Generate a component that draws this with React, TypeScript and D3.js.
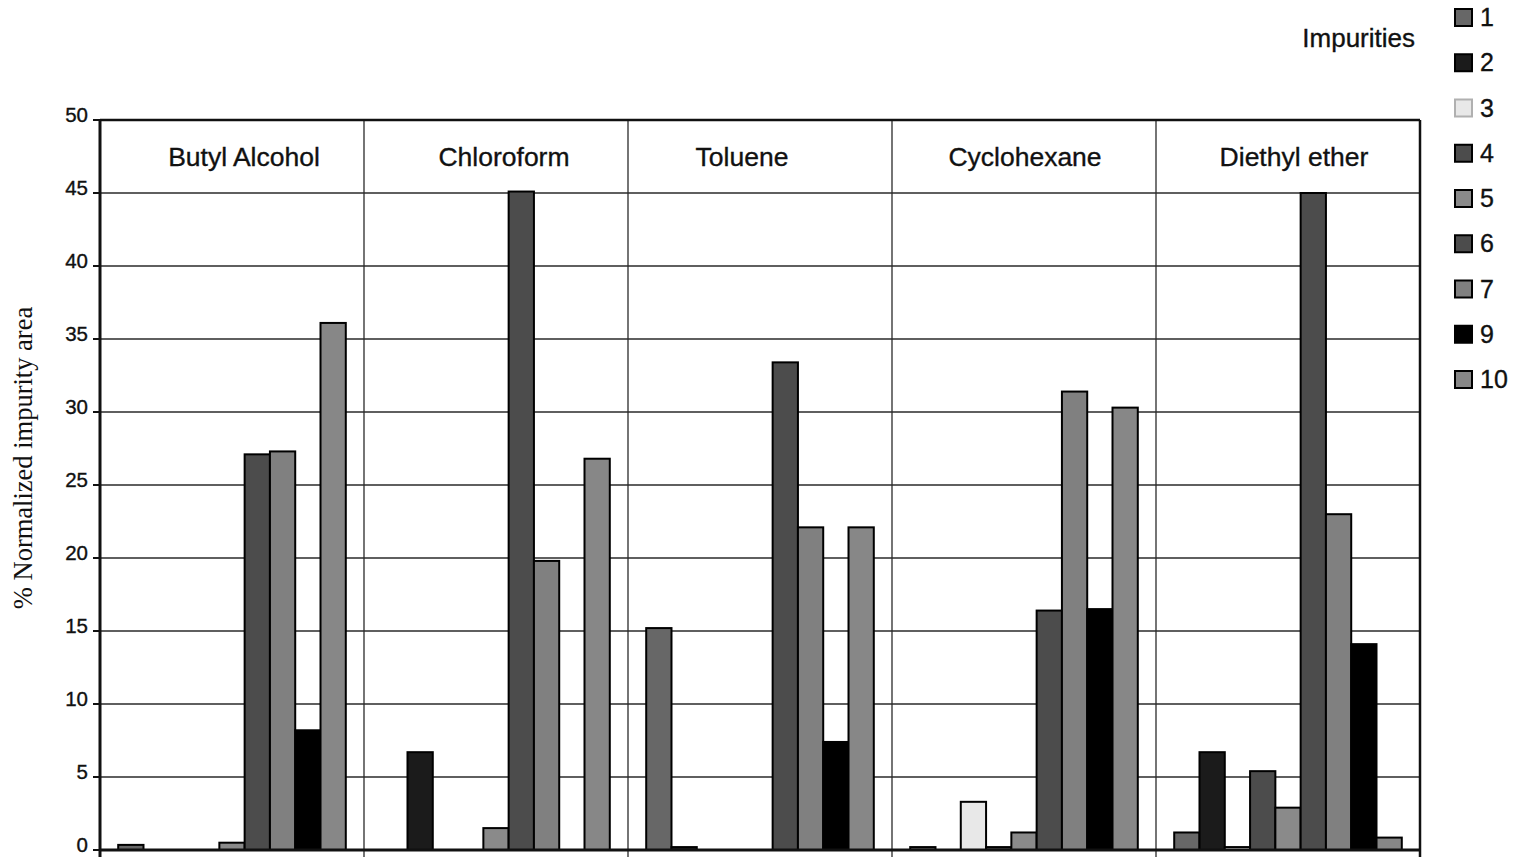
import React from "react";
import * as d3 from "d3";

// Solvents along the x axis
const solvents = ["Butyl Alcohol", "Chloroform", "Toluene", "Cyclohexane", "Diethyl ether"];

// Horizontal nudge of each solvent name inside its band (px)
const solventLabelShift = [12, 8, -18, 1, 6];

// Impurity series (legend order)
const impurities = ["1", "2", "3", "4", "5", "6", "7", "9", "10"];

// % normalized impurity area per solvent, one array per impurity
const imp1 = [0.35, 0, 15.2, 0.2, 1.2];
const imp2 = [0, 6.7, 0.2, 0, 6.7];
const imp3 = [0, 0, 0, 3.3, 0.2];
const imp4 = [0, 0, 0, 0.2, 5.4];
const imp5 = [0.5, 1.5, 0, 1.2, 2.9];
const imp6 = [27.1, 45.1, 33.4, 16.4, 45.0];
const imp7 = [27.3, 19.8, 22.1, 31.4, 23.0];
const imp9 = [8.2, 0, 7.4, 16.5, 14.1];
const imp10 = [36.1, 26.8, 22.1, 30.3, 0.85];

const seriesValues = [imp1, imp2, imp3, imp4, imp5, imp6, imp7, imp9, imp10];

const seriesColors = ["#676767", "#1b1b1b", "#e8e8e8", "#4c4c4c", "#8a8a8a", "#4c4c4c", "#808080", "#000000", "#878787"];

const yTicks = [0, 5, 10, 15, 20, 25, 30, 35, 40, 45, 50];

const W = 1519;
const H = 859;
const plot = { left: 100, right: 1420, top: 120, bottom: 850 };

const sans = "'Liberation Sans', Arial, Helvetica, sans-serif";
const serif = "'Liberation Serif', 'Times New Roman', serif";

// slightly heavier glyphs for the sans labels
const sansInk = { fill: "#111", stroke: "#111", strokeWidth: 0.35 };

export default function App() {
  const x0 = d3.scaleBand<string>().domain(solvents).range([plot.left, plot.right]).paddingInner(0).paddingOuter(0);
  const x1 = d3
    .scaleBand<string>()
    .domain(impurities)
    .range([0, x0.bandwidth()])
    .paddingInner(0)
    .paddingOuter(0.72);
  const y = d3.scaleLinear().domain([0, 50]).range([plot.bottom, plot.top]);

  const labelBandY = (y(45) + y(50)) / 2;

  return (
    <svg
      width={W}
      height={H}
      style={{ position: "absolute", left: 0, top: 0, background: "#fff" }}
      xmlns="http://www.w3.org/2000/svg"
    >
      <rect x={0} y={0} width={W} height={H} fill="#fff" />

      {/* horizontal gridlines */}
      {yTicks.slice(1, -1).map((t) => (
        <line key={"g" + t} x1={plot.left} x2={plot.right} y1={y(t)} y2={y(t)} stroke="#2a2a2a" strokeWidth={1.3} />
      ))}

      {/* vertical group dividers */}
      {solvents.slice(1).map((s) => (
        <line
          key={"v" + s}
          x1={x0(s)!}
          x2={x0(s)!}
          y1={plot.top}
          y2={plot.bottom + 7}
          stroke="#2a2a2a"
          strokeWidth={1.3}
        />
      ))}

      {/* solvent names in the top band */}
      {solvents.map((s, i) => (
        <text
          key={"c" + s}
          x={x0(s)! + x0.bandwidth() / 2 + solventLabelShift[i]}
          y={labelBandY}
          dy="0.36em"
          textAnchor="middle"
          fontFamily={sans}
          fontSize={26.5}
          {...sansInk}
        >
          {s}
        </text>
      ))}

      {/* bars */}
      {solvents.map((s, si) => (
        <g key={"b" + s} transform={`translate(${x0(s)},0)`}>
          {impurities.map((imp, ii) => {
            const v = seriesValues[ii][si];
            if (!v) return null;
            return (
              <rect
                key={imp}
                x={x1(imp)!}
                y={y(v)}
                width={x1.bandwidth()}
                height={y(0) - y(v)}
                fill={seriesColors[ii]}
                stroke="#000"
                strokeWidth={2}
              />
            );
          })}
        </g>
      ))}

      {/* frame */}
      <line x1={plot.left} x2={plot.right} y1={plot.top} y2={plot.top} stroke="#111" strokeWidth={2.5} />
      <line x1={plot.right} x2={plot.right} y1={plot.top} y2={plot.bottom + 7} stroke="#111" strokeWidth={2.5} />
      <line x1={plot.left} x2={plot.left} y1={plot.top} y2={plot.bottom + 7} stroke="#111" strokeWidth={3} />
      <line x1={plot.left} x2={plot.right} y1={plot.bottom} y2={plot.bottom} stroke="#111" strokeWidth={3} />

      {/* y axis ticks and labels */}
      {yTicks.map((t) => (
        <g key={"t" + t}>
          <line x1={plot.left - 7} x2={plot.left} y1={y(t)} y2={y(t)} stroke="#111" strokeWidth={2} />
          <text
            x={plot.left - 12}
            y={y(t)}
            dy="0.1em"
            textAnchor="end"
            fontFamily={sans}
            fontSize={20.5}
            {...sansInk}
          >
            {t}
          </text>
        </g>
      ))}

      {/* y axis title */}
      <text
        transform={`translate(32,${458}) rotate(-90)`}
        textAnchor="middle"
        fontFamily={serif}
        fontSize={26.5}
        fill="#111"
      >
        % Normalized impurity area
      </text>

      {/* legend */}
      <text x={1415} y={38} dy="0.36em" textAnchor="end" fontFamily={sans} fontSize={26} {...sansInk}>
        Impurities
      </text>
      {impurities.map((imp, i) => {
        const cy = 17 + i * 45.25;
        return (
          <g key={"l" + imp}>
            <rect
              x={1455}
              y={cy - 8}
              width={17}
              height={17}
              fill={seriesColors[i]}
              stroke={imp === "3" ? "#b0b0b0" : "#000"}
              strokeWidth={2}
            />
            <text x={1480} y={cy} dy="0.36em" fontFamily={sans} fontSize={25} {...sansInk}>
              {imp}
            </text>
          </g>
        );
      })}
    </svg>
  );
}
